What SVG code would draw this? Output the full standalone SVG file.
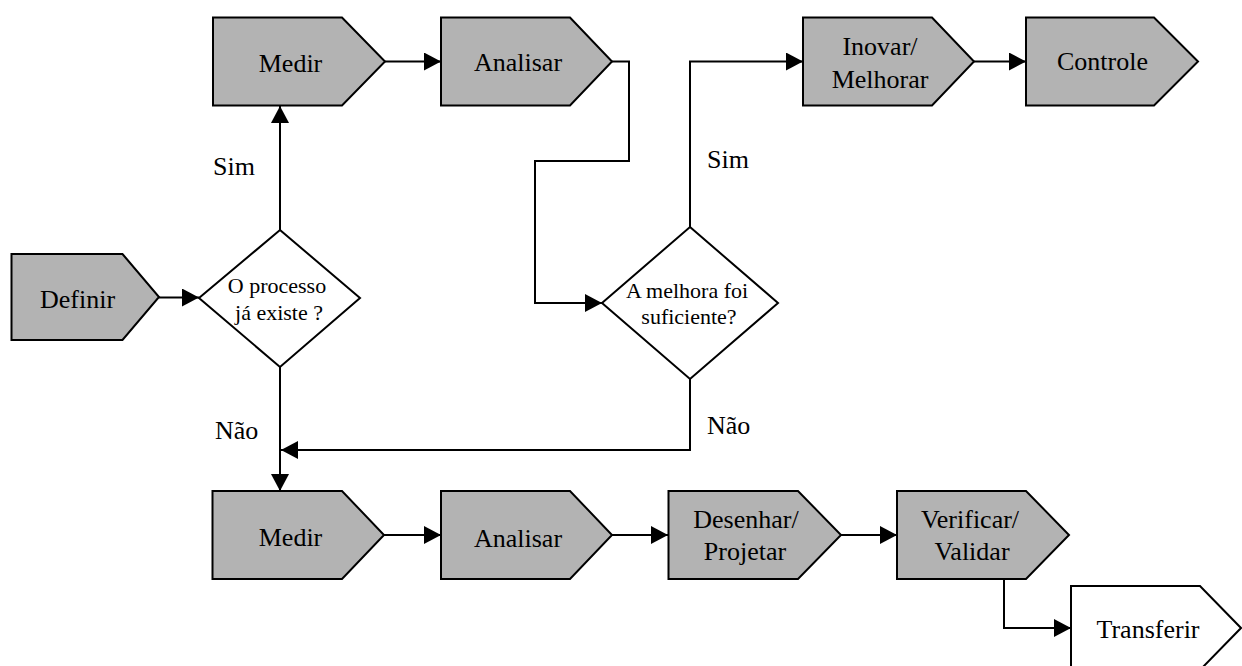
<svg xmlns="http://www.w3.org/2000/svg" width="1242" height="666" viewBox="0 0 1242 666">
<style>
.box{fill:#b3b3b3;stroke:#000;stroke-width:2;stroke-linejoin:miter}
.wbox{fill:#fff;stroke:#000;stroke-width:2}
text{font-family:'Liberation Serif',Tinos,'Times New Roman',Times,'DejaVu Serif',serif;fill:#000}
.t{font-size:26px;text-anchor:middle}
.d{font-size:22px;text-anchor:middle}
.l{font-size:26px}
.c{fill:none;stroke:#000;stroke-width:2}
</style>
<defs>
<marker id="ah" markerUnits="userSpaceOnUse" markerWidth="18" markerHeight="18" refX="17" refY="9" orient="auto" viewBox="0 0 18 18">
<path d="M0,0 L17,9 L0,18 z" fill="#000"/>
</marker>
</defs>
<rect width="1242" height="666" fill="#fff"/>
<g id="connectors">
<path class="c" d="M159,297.5 H199" marker-end="url(#ah)"/>
<path class="c" d="M280,230 V106" marker-end="url(#ah)"/>
<path class="c" d="M385,61.5 H441" marker-end="url(#ah)"/>
<path class="c" d="M612,61.5 H629 V161 H535 V303 H602" marker-end="url(#ah)"/>
<path class="c" d="M690,227 V61.5 H803" marker-end="url(#ah)"/>
<path class="c" d="M974,61.5 H1026" marker-end="url(#ah)"/>
<path class="c" d="M280,367 V491" marker-end="url(#ah)"/>
<path class="c" d="M690,379 V450 H281" marker-end="url(#ah)"/>
<path class="c" d="M384,535 H441" marker-end="url(#ah)"/>
<path class="c" d="M612,535 H668" marker-end="url(#ah)"/>
<path class="c" d="M841,535 H897" marker-end="url(#ah)"/>
<path class="c" d="M1004,579 V628 H1071" marker-end="url(#ah)"/>
<text class="l" x="213" y="175">Sim</text>
<text class="l" x="707" y="168">Sim</text>
<text class="l" x="215" y="439">Não</text>
<text class="l" x="707" y="434">Não</text>
</g>
<g id="definir">
<polygon class="box" points="11.5,254 122.5,254 159,297 122.5,340 11.5,340"/>
<text class="t" x="77.5" y="308">Definir</text>
</g>
<g id="decisao1">
<polygon class="wbox" points="280,230 360,298 280,367 199,298"/>
<text class="d" x="277" y="292.5">O processo</text>
<text class="d" x="279" y="320">já existe ?</text>
</g>
<g id="medir1">
<polygon class="box" points="213,17.5 342,17.5 385,61.5 342,105.5 213,105.5"/>
<text class="t" x="290.5" y="71.5">Medir</text>
</g>
<g id="analisar1">
<polygon class="box" points="441,17.5 570,17.5 612,61.5 570,105.5 441,105.5"/>
<text class="t" x="518" y="71">Analisar</text>
</g>
<g id="decisao2">
<polygon class="wbox" points="690,227 778,303 690,379 602,303"/>
<text class="d" x="687" y="297.5">A melhora foi</text>
<text class="d" x="689" y="324">suficiente?</text>
</g>
<g id="inovar">
<polygon class="box" points="803,17.5 932,17.5 974,61.5 932,105.5 803,105.5"/>
<text class="t" x="880" y="55">Inovar/</text>
<text class="t" x="880" y="88">Melhorar</text>
</g>
<g id="controle">
<polygon class="box" points="1026,17.5 1154,17.5 1198,61.5 1154,105.5 1026,105.5"/>
<text class="t" x="1102.5" y="70">Controle</text>
</g>
<g id="medir2">
<polygon class="box" points="212.5,491 342,491 384,535 342,579 212.5,579"/>
<text class="t" x="290.5" y="545.5">Medir</text>
</g>
<g id="analisar2">
<polygon class="box" points="441,491 570,491 612,535 570,579 441,579"/>
<text class="t" x="518" y="546.5">Analisar</text>
</g>
<g id="desenhar">
<polygon class="box" points="668.5,491 798,491 841,535 798,579 668.5,579"/>
<text class="t" x="746" y="528">Desenhar/</text>
<text class="t" x="745" y="560">Projetar</text>
</g>
<g id="verificar">
<polygon class="box" points="897,491 1026,491 1069,535 1026,579 897,579"/>
<text class="t" x="970" y="528">Verificar/</text>
<text class="t" x="972" y="560">Validar</text>
</g>
<g id="transferir">
<polygon class="wbox" points="1071,586 1200,586 1241,628 1200,670 1071,670"/>
<text class="t" x="1148" y="638">Transferir</text>
</g>
</svg>
